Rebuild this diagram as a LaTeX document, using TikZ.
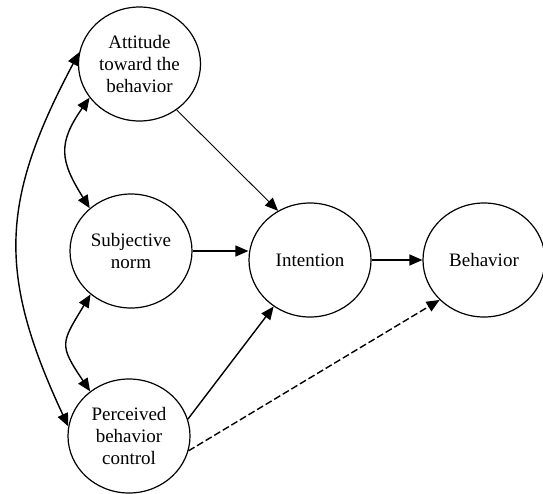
\documentclass[tikz,border=0pt]{standalone}
\usepackage{fontspec}
\setmainfont{Liberation Serif}
\usepackage{tikz}
\usetikzlibrary{shapes.geometric, arrows.meta}
\tikzstyle{construct} = [ellipse, draw, line width=1.2pt, minimum width=122pt, minimum height=114pt, inner sep=0pt, align=center, font=\fontsize{19}{21.7}\selectfont]
\tikzstyle{arrow} = [line width=1.4pt, -{Triangle[length=13pt,width=11pt]}]
\tikzstyle{twoway} = [line width=1.4pt, {Triangle[length=13pt,width=11pt]}-{Triangle[length=13pt,width=11pt]}]

\begin{document}
\begin{tikzpicture}[x=1pt,y=-1pt]
		\useasboundingbox (0,0) rectangle (543,493);
		% Constructs:
		% Each one is an ellipse node placed at its centre
		\node [construct] (att)    at (139.5,64) {Attitude\\toward the\\behavior};
		\node [construct] (subj)   at (131,251)  {Subjective\\norm};
		\node [construct] (perc)   at (129,436)  {Perceived\\behavior\\control};
		\node [construct] (intent) at (310,260)  {Intention};
		\node [construct] (behav)  at (484,260)  {Behavior};
		
		% Paths into intention and behavior:
		\draw [arrow, line width=0.9pt] (att.309) -- (intent.123);
		\draw [arrow] (subj.east) -- (subj.east -| intent.west);
		\draw [arrow] (perc.16) -- (intent.232);
		\draw [arrow] (intent) -- (behav);
		\draw [arrow, dash pattern=on 7pt off 3pt] (perc.-14) -- (behav.222);
		
		% Correlations:
		% Drawn as curves with `out` and `in` angles, heads on both ends
		\draw [twoway] (att.214) to [out=235, in=122, looseness=1.3] (subj.134);
		\draw [twoway] (subj.227) to [out=239, in=124, looseness=1.5] (perc.131);
		\draw [twoway] (att.169) to [out=242, in=115, looseness=1.15] (perc.171);
		
		\end{tikzpicture}
\end{document}
